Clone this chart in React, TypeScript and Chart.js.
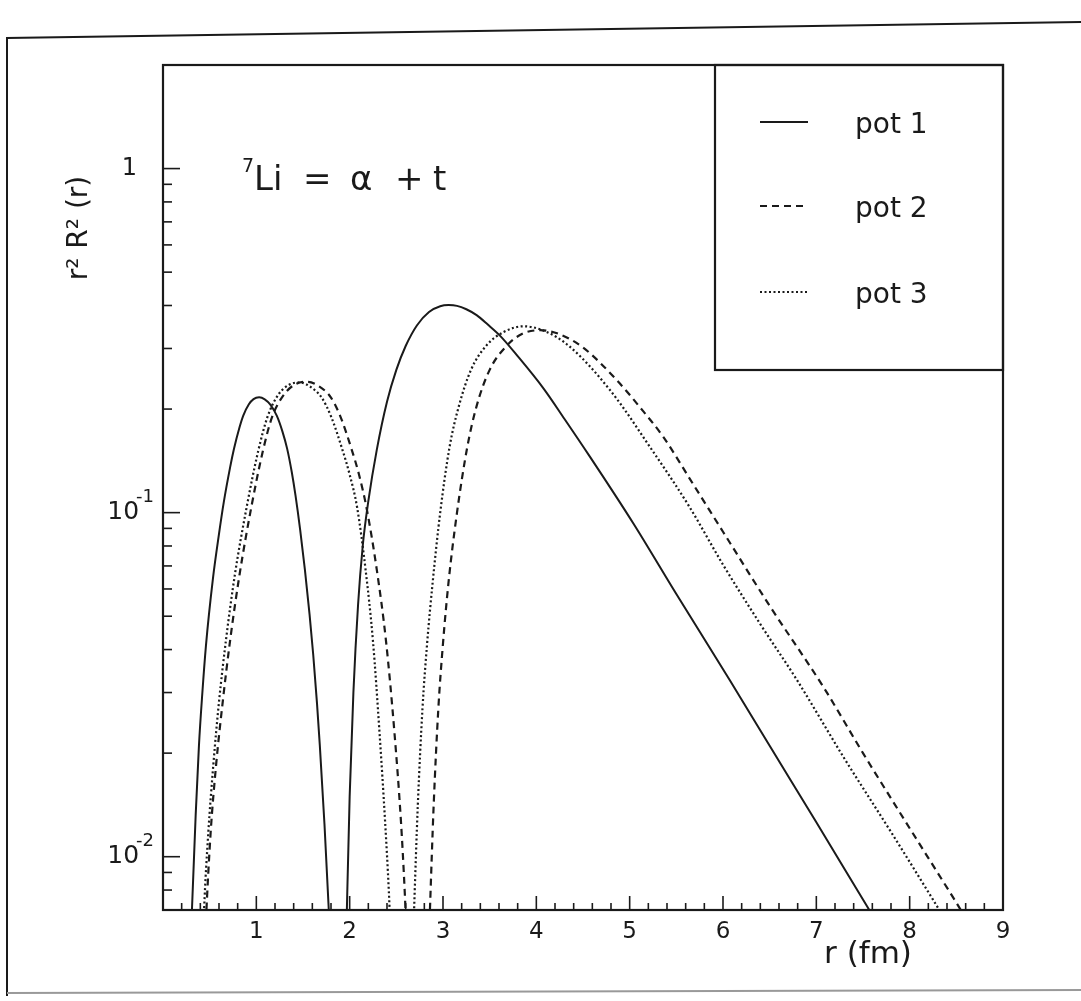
import React, { useEffect, useRef } from 'react';
import { Chart, registerables } from 'chart.js';

Chart.register(...registerables);

// ---- data (r in fm, r^2 R^2(r)); null separates lobes between nodes ----
const pot1R = [0.27, 0.31, 0.35, 0.385, 0.42, 0.46, 0.535, 0.6, 0.65, 0.72, 0.76, 0.82, 0.86, 0.92, 0.97, 1.03, 1.09, 1.15, 1.22, 1.28, 1.33, 1.38, 1.42, 1.47, 1.52, 1.57, 1.61, 1.65, 1.68, 1.73, 1.78, 1.81, 1.88,
  1.94, 1.97, 2.0, 2.04, 2.09, 2.14, 2.2, 2.29, 2.4, 2.5, 2.6, 2.72, 2.85, 2.97, 3.06, 3.15, 3.25, 3.36, 3.48, 3.61, 3.8, 4.08, 4.3, 4.57, 5.04, 5.5, 6.07, 6.5, 7.0, 7.54, 7.75];
const pot1V = [0.0035, 0.007, 0.0132, 0.021, 0.0295, 0.041, 0.0643, 0.0867, 0.1067, 0.1358, 0.153, 0.177, 0.1914, 0.2065, 0.2138, 0.2163, 0.2135, 0.206, 0.191, 0.172, 0.1535, 0.131, 0.112, 0.089, 0.0684, 0.0507, 0.0385, 0.0279, 0.0211, 0.01245, 0.00668, 0.00427, null,
  0.003, 0.007, 0.015, 0.03, 0.054, 0.08, 0.108, 0.152, 0.21, 0.26, 0.305, 0.35, 0.383, 0.398, 0.401, 0.399, 0.39, 0.375, 0.352, 0.327, 0.285, 0.229, 0.1875, 0.146, 0.093, 0.058, 0.0327, 0.021, 0.0126, 0.0072, 0.0058];

const pot2R = [0.43, 0.46, 0.51, 0.57, 0.64, 0.72, 0.82, 0.95, 1.07, 1.17, 1.3, 1.43, 1.55, 1.67, 1.8, 1.9, 2.02, 2.1, 2.18, 2.29, 2.39, 2.48, 2.55, 2.59, 2.62, 2.7,
  2.83, 2.86, 2.9, 2.95, 3.0, 3.06, 3.15, 3.26, 3.36, 3.5, 3.68, 3.85, 4.04, 4.25, 4.5, 4.86, 5.1, 5.36, 5.68, 6.0, 6.5, 7.08, 7.5, 8.0, 8.48, 8.65];
const pot2V = [0.004, 0.0065, 0.0117, 0.0186, 0.0282, 0.0427, 0.066, 0.105, 0.151, 0.19, 0.221, 0.237, 0.24, 0.233, 0.216, 0.1905, 0.153, 0.129, 0.1035, 0.0684, 0.0422, 0.0229, 0.0126, 0.0079, 0.005, null,
  0.004, 0.007, 0.0141, 0.0269, 0.0417, 0.063, 0.1, 0.155, 0.204, 0.26, 0.305, 0.331, 0.339, 0.33, 0.302, 0.243, 0.204, 0.166, 0.121, 0.088, 0.0536, 0.031, 0.02, 0.0121, 0.0075, 0.0063];

const pot3R = [0.41, 0.44, 0.485, 0.54, 0.6, 0.675, 0.77, 0.9, 1.02, 1.12, 1.24, 1.36, 1.47, 1.58, 1.7, 1.8, 1.92, 2.0, 2.08, 2.17, 2.25, 2.32, 2.38, 2.42, 2.45, 2.55,
  2.66, 2.69, 2.73, 2.78, 2.83, 2.89, 2.97, 3.07, 3.17, 3.3, 3.47, 3.65, 3.86, 4.08, 4.35, 4.79, 5.24, 5.64, 6.0, 6.4, 6.79, 7.3, 7.8, 8.25, 8.42];
const pot3V = [0.004, 0.007, 0.0117, 0.0186, 0.0282, 0.0427, 0.066, 0.105, 0.151, 0.19, 0.221, 0.236, 0.239, 0.232, 0.216, 0.1905, 0.153, 0.129, 0.1035, 0.0684, 0.0422, 0.0229, 0.0126, 0.0079, 0.005, null,
  0.004, 0.007, 0.0141, 0.0269, 0.0417, 0.063, 0.1, 0.155, 0.204, 0.26, 0.307, 0.335, 0.348, 0.338, 0.305, 0.227, 0.152, 0.104, 0.0706, 0.0474, 0.0327, 0.0193, 0.0118, 0.0075, 0.0063];

const seriesNames = ['pot 1', 'pot 2', 'pot 3'];
const xTickLabels = ['1', '2', '3', '4', '5', '6', '7', '8', '9'];
const yMajorValues = [1, 0.1, 0.01];
const yMajorBase = ['1', '10', '10'];
const yMajorExp = ['', '-1', '-2'];
const xTitle = 'r (fm)';
const yTitle = 'r² R² (r)';
const X_MIN = 0, X_MAX = 9, Y_MIN = 0.007, Y_MAX = 2;

const FONT = '"DejaVu Sans", "Liberation Sans", sans-serif';
const INK = '#1a1a1a';

const toPoints = (r: number[], v: (number | null)[]) => r.map((x, i) => ({ x, y: v[i] }));

const decor = {
  id: 'decor',
  afterDraw(chart: any) {
    const { ctx, chartArea: a, scales } = chart;
    const xs = scales.x, ys = scales.y;
    ctx.save();
    ctx.strokeStyle = INK;
    ctx.fillStyle = INK;

    // outer page border
    ctx.lineWidth = 2;
    ctx.beginPath();
    ctx.moveTo(7, 996);
    ctx.lineTo(7, 38);
    ctx.lineTo(1081, 22);
    ctx.stroke();
    ctx.strokeStyle = '#999';
    ctx.beginPath();
    ctx.moveTo(7, 993);
    ctx.lineTo(1081, 990);
    ctx.stroke();
    ctx.strokeStyle = INK;

    // plot frame
    ctx.lineWidth = 2.2;
    ctx.strokeRect(a.left, a.top, a.right - a.left, a.bottom - a.top);

    // x ticks (inward from bottom)
    ctx.lineWidth = 1.6;
    for (let i = 1; i < 45; i++) {
      const v = i * 0.2;
      const px = xs.getPixelForValue(v);
      const len = i % 5 === 0 ? 14 : 7;
      ctx.beginPath();
      ctx.moveTo(px, a.bottom);
      ctx.lineTo(px, a.bottom - len);
      ctx.stroke();
    }
    // y ticks (inward from left)
    for (let d = -3; d <= 0; d++) {
      for (let m = 1; m <= 9; m++) {
        const v = m * Math.pow(10, d);
        if (v <= Y_MIN * 0.999 || v >= Y_MAX) continue;
        const py = ys.getPixelForValue(v);
        const len = m === 1 ? 17 : 9;
        ctx.beginPath();
        ctx.moveTo(a.left, py);
        ctx.lineTo(a.left + len, py);
        ctx.stroke();
      }
    }

    // x tick labels
    ctx.font = `23px ${FONT}`;
    ctx.textAlign = 'center';
    ctx.textBaseline = 'middle';
    xTickLabels.forEach((t, i) => {
      ctx.fillText(t, xs.getPixelForValue(i + 1), a.bottom + 22);
    });

    // y tick labels
    yMajorValues.forEach((v, i) => {
      const py = ys.getPixelForValue(v);
      if (yMajorExp[i] === '') {
        ctx.font = `24px ${FONT}`;
        ctx.textAlign = 'right';
        ctx.fillText(yMajorBase[i], a.left - 26, py);
      } else {
        ctx.font = `18px ${FONT}`;
        ctx.textAlign = 'left';
        const expW = ctx.measureText(yMajorExp[i]).width;
        const expX = a.left - 9 - expW;
        ctx.fillText(yMajorExp[i], expX, py - 15);
        ctx.font = `25px ${FONT}`;
        ctx.textAlign = 'right';
        ctx.fillText(yMajorBase[i], expX + 3, py);
      }
    });

    // axis titles
    ctx.font = `31px ${FONT}`;
    ctx.textAlign = 'center';
    ctx.fillText(xTitle, 868, 955);
    ctx.save();
    ctx.translate(80, 228);
    ctx.rotate(-Math.PI / 2);
    ctx.font = `28px ${FONT}`;
    ctx.fillText(yTitle, 0, 0);
    ctx.restore();

    // annotation  7Li = α + t
    ctx.textAlign = 'left';
    ctx.textBaseline = 'alphabetic';
    ctx.font = `19px ${FONT}`;
    ctx.fillText('7', 242, 172);
    ctx.font = `34px ${FONT}`;
    ctx.fillText('Li', 254, 190);
    ctx.fillText('=', 303, 190);
    ctx.fillText('α', 350, 190);
    ctx.fillText('+', 395, 190);
    ctx.fillText('t', 433, 190);

    // legend box
    const lx = 715, ly = a.top, lr = a.right, lb = 370;
    ctx.lineWidth = 2.2;
    ctx.strokeRect(lx, ly, lr - lx, lb - ly);
    const rows = [126, 210, 296];
    chart.data.datasets.forEach((ds: any, i: number) => {
      const yy = rows[i];
      ctx.save();
      ctx.lineWidth = ds.borderWidth;
      ctx.setLineDash(ds.borderDash || []);
      ctx.beginPath();
      ctx.moveTo(760, yy - 4);
      ctx.lineTo(808, yy - 4);
      ctx.stroke();
      ctx.restore();
      ctx.font = `28px ${FONT}`;
      ctx.textAlign = 'left';
      ctx.textBaseline = 'middle';
      ctx.fillText(ds.label, 855, yy);
    });
    ctx.restore();
  },
};

export default function App() {
  const ref = useRef<HTMLCanvasElement | null>(null);
  useEffect(() => {
    if (!ref.current) return;
    const chart = new Chart(ref.current, {
      type: 'line',
      data: {
        datasets: [
          { label: seriesNames[0], data: toPoints(pot1R, pot1V), borderColor: INK, borderWidth: 2, borderDash: [], pointRadius: 0, cubicInterpolationMode: 'monotone', spanGaps: false },
          { label: seriesNames[1], data: toPoints(pot2R, pot2V), borderColor: INK, borderWidth: 2.2, borderDash: [7, 5], pointRadius: 0, cubicInterpolationMode: 'monotone', spanGaps: false },
          { label: seriesNames[2], data: toPoints(pot3R, pot3V), borderColor: INK, borderWidth: 2.2, borderDash: [2, 2.5], pointRadius: 0, cubicInterpolationMode: 'monotone', spanGaps: false },
        ],
      } as any,
      options: {
        animation: false,
        responsive: false,
        devicePixelRatio: 1,
        layout: { padding: { left: 163, top: 65, right: 78, bottom: 91 } },
        plugins: { legend: { display: false }, tooltip: { enabled: false } },
        scales: {
          x: { type: 'linear', display: false, min: X_MIN, max: X_MAX },
          y: { type: 'logarithmic', display: false, min: Y_MIN, max: Y_MAX },
        },
      } as any,
      plugins: [decor],
    });
    return () => chart.destroy();
  }, []);
  return (
    <div style={{ position: 'absolute', left: 0, top: 0, width: 1081, height: 1001, background: '#fff' }}>
      <canvas ref={ref} width={1081} height={1001} style={{ display: 'block' }} />
    </div>
  );
}
